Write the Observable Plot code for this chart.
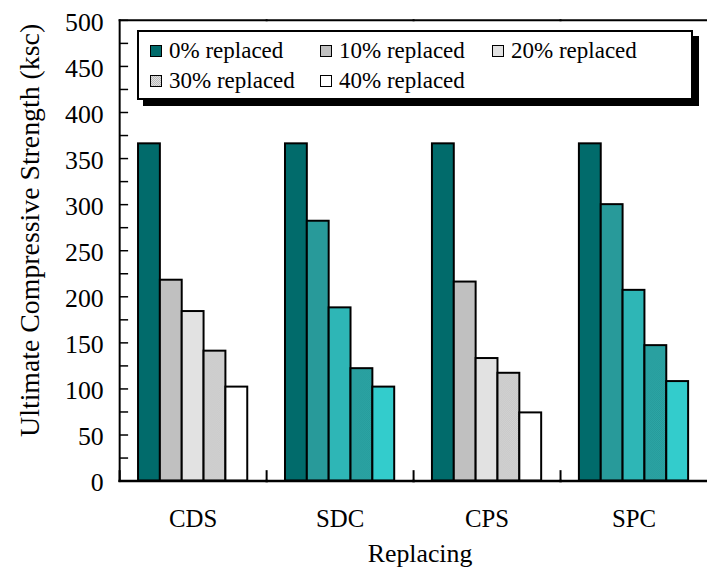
<!DOCTYPE html>
<html>
<head>
<meta charset="utf-8">
<script src="https://cdn.jsdelivr.net/npm/d3@7"></script>
<script src="https://cdn.jsdelivr.net/npm/@observablehq/plot@0.6"></script>
<style>
  html, body { margin: 0; padding: 0; background: #fff; }
  #chart {
    position: relative; width: 707px; height: 572px; overflow: hidden;
    font-family: "Liberation Serif", Tinos, "Times New Roman", Times, "DejaVu Serif", serif; color: #000;
  }
  #chart svg { position: absolute; left: 0; top: 0; }
  #chart svg text { font-family: "Liberation Serif", Tinos, "Times New Roman", Times, "DejaVu Serif", serif; }
  #legend {
    position: absolute; left: 137px; top: 30px; width: 556px; height: 70px;
    box-sizing: border-box; border: 2px solid #000; background: #fff;
    box-shadow: 6px 6px 0 #000;
    padding: 4px 0 0 11px;
    display: grid; grid-template-columns: 170px 172px auto; grid-auto-rows: 30px;
    font-size: 23px; line-height: 30px;
  }
  .item { display: flex; align-items: center; white-space: nowrap; }
  .sw { width: 12px; height: 12px; box-sizing: border-box; border: 1.5px solid #000; margin-right: 7px; flex: none; }
</style>
</head>
<body>
<div id="chart"></div>
<script>
// Ultimate compressive strength (ksc) by replaced material and replacement ratio
const groups = ["CDS", "SDC", "CPS", "SPC"];
const series = ["0% replaced", "10% replaced", "20% replaced", "30% replaced", "40% replaced"];
const cds = [366, 218, 184, 141, 102];
const sdc = [366, 282, 188, 122, 102];
const cps = [366, 216, 133, 117, 74];
const spc = [366, 300, 207, 147, 108];
const groupShade = ["gray", "teal", "gray", "teal"];
const grayFills = ["#016b6b", "#c0c0c0", "#e2e2e2", "url(#dots-gray)", "#ffffff"];
const tealFills = ["#016b6b", "#289a9a", "#2eb6b6", "url(#dots-teal)", "#33cccc"];
const yTicks = d3.range(0, 501, 50);
const yMinorTicks = d3.range(0, 501, 25);

const valuesByGroup = [cds, sdc, cps, spc];
const rows = groups.flatMap((g, gi) =>
  series.map((s, si) => ({
    group: g,
    series: s,
    value: valuesByGroup[gi][si],
    fill: (groupShade[gi] === "teal" ? tealFills : grayFills)[si]
  }))
);

const serif = '"Liberation Serif", Tinos, "Times New Roman", Times, "DejaVu Serif", serif';

const plot = Plot.plot({
  width: 712,
  height: 572,
  marginLeft: 120,
  marginRight: 0,
  marginTop: 20,
  marginBottom: 88,
  style: { fontFamily: serif, fontSize: "25px", color: "#000", background: "transparent" },
  fx: { domain: groups, padding: 0, label: "Replacing" },
  x: { domain: series, axis: null, paddingInner: 0, paddingOuter: 0.74 },
  y: { domain: [0, 500] },
  color: { type: "identity" },
  marks: [
    Plot.barY(rows, { fx: "group", x: "series", y: "value", fill: "fill", stroke: "#000", strokeWidth: 2 }),
    Plot.frame({ anchor: "top", strokeWidth: 2 }),
    Plot.frame({ anchor: "bottom", strokeWidth: 2.5 }),
    Plot.frame({ anchor: "left", facetAnchor: "left", strokeWidth: 2 }),
    Plot.frame({ anchor: "left", insetTop: 454, strokeWidth: 2 }),
    Plot.axisY({ ticks: yMinorTicks, tickSize: -9, strokeWidth: 1.5, fill: "none", label: null }),
    Plot.axisY({
      ticks: yTicks, tickSize: 0, tickPadding: 16, fontSize: 26, dy: 2,
      label: "Ultimate Compressive Strength (ksc)", labelAnchor: "center", labelArrow: "none"
    }),
    Plot.axisFx({
      anchor: "bottom", tickSize: 0, tickPadding: 28, fontSize: 25,
      label: "Replacing", labelAnchor: "center", labelArrow: "none"
    })
  ]
});

const svg = d3.select(plot);

// fine dotted fills for the 30% bars
const defs = svg.insert("defs", ":first-child");
function dots(id, base, dot) {
  const p = defs.append("pattern").attr("id", id)
    .attr("width", 2).attr("height", 2).attr("patternUnits", "userSpaceOnUse");
  p.append("rect").attr("width", 2).attr("height", 2).attr("fill", base);
  p.append("rect").attr("width", 1).attr("height", 1).attr("fill", dot);
  p.append("rect").attr("x", 1).attr("y", 1).attr("width", 1).attr("height", 1).attr("fill", dot);
}
dots("dots-gray", "#e2e2e2", "#b9b9b9");
dots("dots-teal", "#33b2b2", "#1f8e8e");

// axis titles
const yLab = svg.select('[aria-label="y-axis label"]');
yLab.attr("transform", null);
yLab.selectAll("text")
  .attr("transform", "translate(39,232) rotate(-90)")
  .attr("x", null).attr("y", null).attr("dy", null)
  .attr("text-anchor", "middle")
  .attr("font-size", 28);
const xLab = svg.select('[aria-label="fx-axis label"]');
xLab.attr("transform", null);
xLab.selectAll("text")
  .attr("transform", "translate(423,566)")
  .attr("x", null).attr("y", null).attr("dy", null)
  .attr("text-anchor", "middle")
  .attr("font-size", 26);

const chart = document.getElementById("chart");
chart.appendChild(plot);

// legend box
const legend = document.createElement("div");
legend.id = "legend";
series.forEach((s, i) => {
  const item = document.createElement("div");
  item.className = "item";
  const sw = document.createElement("span");
  sw.className = "sw";
  const f = grayFills[i];
  if (f.startsWith("url(")) {
    sw.style.background = "conic-gradient(#b9b9b9 25%, #e2e2e2 0 50%, #b9b9b9 0 75%, #e2e2e2 0) 0 0 / 2px 2px";
  } else {
    sw.style.background = f;
  }
  const label = document.createElement("span");
  label.textContent = s;
  item.appendChild(sw);
  item.appendChild(label);
  legend.appendChild(item);
});
chart.appendChild(legend);
</script>
</body>
</html>
